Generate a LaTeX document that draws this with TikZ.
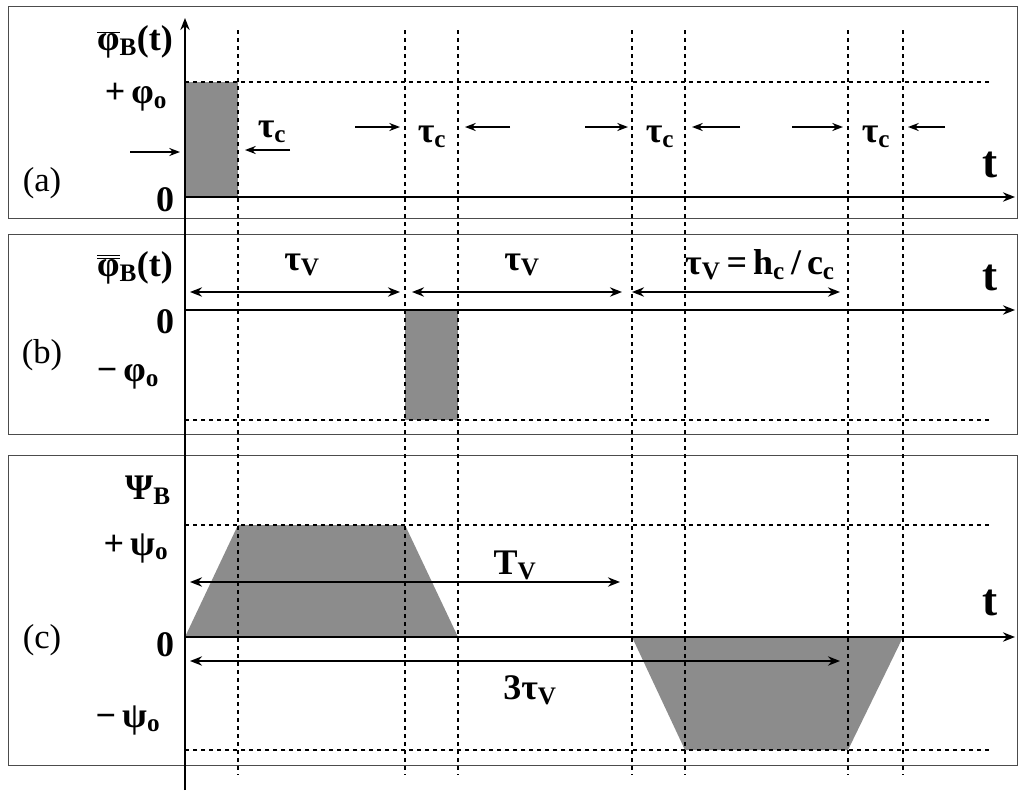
\documentclass[tikz,border=0pt]{standalone}
\usepackage{fontspec}
\setmainfont{Liberation Serif}
\usetikzlibrary{arrows.meta}
\begin{document}
\begin{tikzpicture}[x=0.75pt,y=-0.75pt,
  panel/.style={draw=black!70,line width=0.6pt},
  dl/.style={dashed,line width=1.2pt,dash pattern=on 3pt off 3pt},
  ax/.style={line width=1.6pt,-{Stealth[length=9pt,width=7pt]}},
  dbl/.style={line width=1.4pt,{Stealth[length=9pt,width=7pt]}-{Stealth[length=9pt,width=7pt]}},
  sa/.style={line width=1.4pt,-{Stealth[length=8pt,width=6pt]}},
  lab/.style={font=\bfseries\fontsize{27}{29}\selectfont,inner sep=0pt},
  big/.style={font=\bfseries\fontsize{34}{36}\selectfont,inner sep=0pt},
  sh/.style={fill=black!45}]
\useasboundingbox (0,0) rectangle (1024,800);
\draw[panel] (8,6) rectangle (1017,218);
\draw[panel] (8,234) rectangle (1017,434);
\draw[panel] (8,455) rectangle (1017,765);
% shaded
\fill[sh] (185,82) rectangle (238,197);
\fill[sh] (405,310) rectangle (458,420);
\fill[sh] (185,637) -- (238,525) -- (405,525) -- (458,637) -- cycle;
\fill[sh] (632,637) -- (685,750) -- (848,750) -- (903,637) -- cycle;
% dashed
\foreach \x in {238,405,458,632,685,848,903} \draw[dl] (\x,30) -- (\x,775);
\draw[dl] (185,82) -- (990,82);
\draw[dl] (185,420) -- (990,420);
\draw[dl] (185,525) -- (990,525);
\draw[dl] (185,750) -- (990,750);
% axes
\draw[ax] (185,790) -- (185,18);
\draw[ax] (185,197) -- (1015,197);
\draw[ax] (185,310) -- (1015,310);
\draw[ax] (185,637) -- (1015,637);
% labels (a)
\node[lab] (la) at (135,42) {$\overline{\hbox{φ}}$\textsubscript{B}(t)};
\node[lab] (pa) at (136,97) {+\,φ\textsubscript{o}};
\node[lab] (za) at (165,200) {0};
\node[lab,font=\fontsize{26}{28}\selectfont] (a) at (42,183) {(a)};
\node[big] (ta) at (990,165) {t};
\node[lab] (t1) at (272,132) {τ\textsubscript{c}};
\node[lab] (t2) at (432,137) {τ\textsubscript{c}};
\node[lab] (t3) at (660,137) {τ\textsubscript{c}};
\node[lab] (t4) at (876,137) {τ\textsubscript{c}};
\draw[sa] (130,152) -- (180,152);
\draw[sa] (290,150) -- (245,150);
\draw[sa] (355,127) -- (400,127);
\draw[sa] (510,127) -- (465,127);
\draw[sa] (585,127) -- (628,127);
\draw[sa] (740,127) -- (692,127);
\draw[sa] (792,127) -- (843,127);
\draw[sa] (945,127) -- (908,127);
% (b)
\node[lab] (lb) at (135,268) {$\overline{\overline{\hbox{φ}}}$\textsubscript{B}(t)};
\node[lab] (zb) at (165,322) {0};
\node[lab] (pb) at (128,377) {−\,φ\textsubscript{o}};
\node[lab,font=\fontsize{26}{28}\selectfont] (b) at (42,355) {(b)};
\node[big] (tb) at (990,278) {t};
\draw[dbl] (190,292) -- (400,292);
\draw[dbl] (412,292) -- (622,292);
\draw[dbl] (632,292) -- (840,292);
\node[lab] (v1) at (302,265) {τ\textsubscript{V}};
\node[lab] (v2) at (522,265) {τ\textsubscript{V}};
\node[lab] (v3) at (760,265) {τ\textsubscript{V}\,=\,h\textsubscript{c}\,/\,c\textsubscript{c}};
% (c)
\node[lab] (lc) at (148,490) {Ψ\textsubscript{B}};
\node[lab] (pc) at (136,548) {+\,ψ\textsubscript{o}};
\node[lab] (zc) at (165,645) {0};
\node[lab] (mc) at (128,720) {−\,ψ\textsubscript{o}};
\node[lab,font=\fontsize{26}{28}\selectfont] (c) at (42,640) {(c)};
\node[big] (tc) at (990,603) {t};
\draw[dbl] (190,582) -- (620,582);
\node[lab] (tv) at (515,565) {T\textsubscript{V}};
\draw[dbl] (190,661) -- (840,661);
\node[lab] (t3v) at (530,690) {3τ\textsubscript{V}};
\end{tikzpicture}
\end{document}
